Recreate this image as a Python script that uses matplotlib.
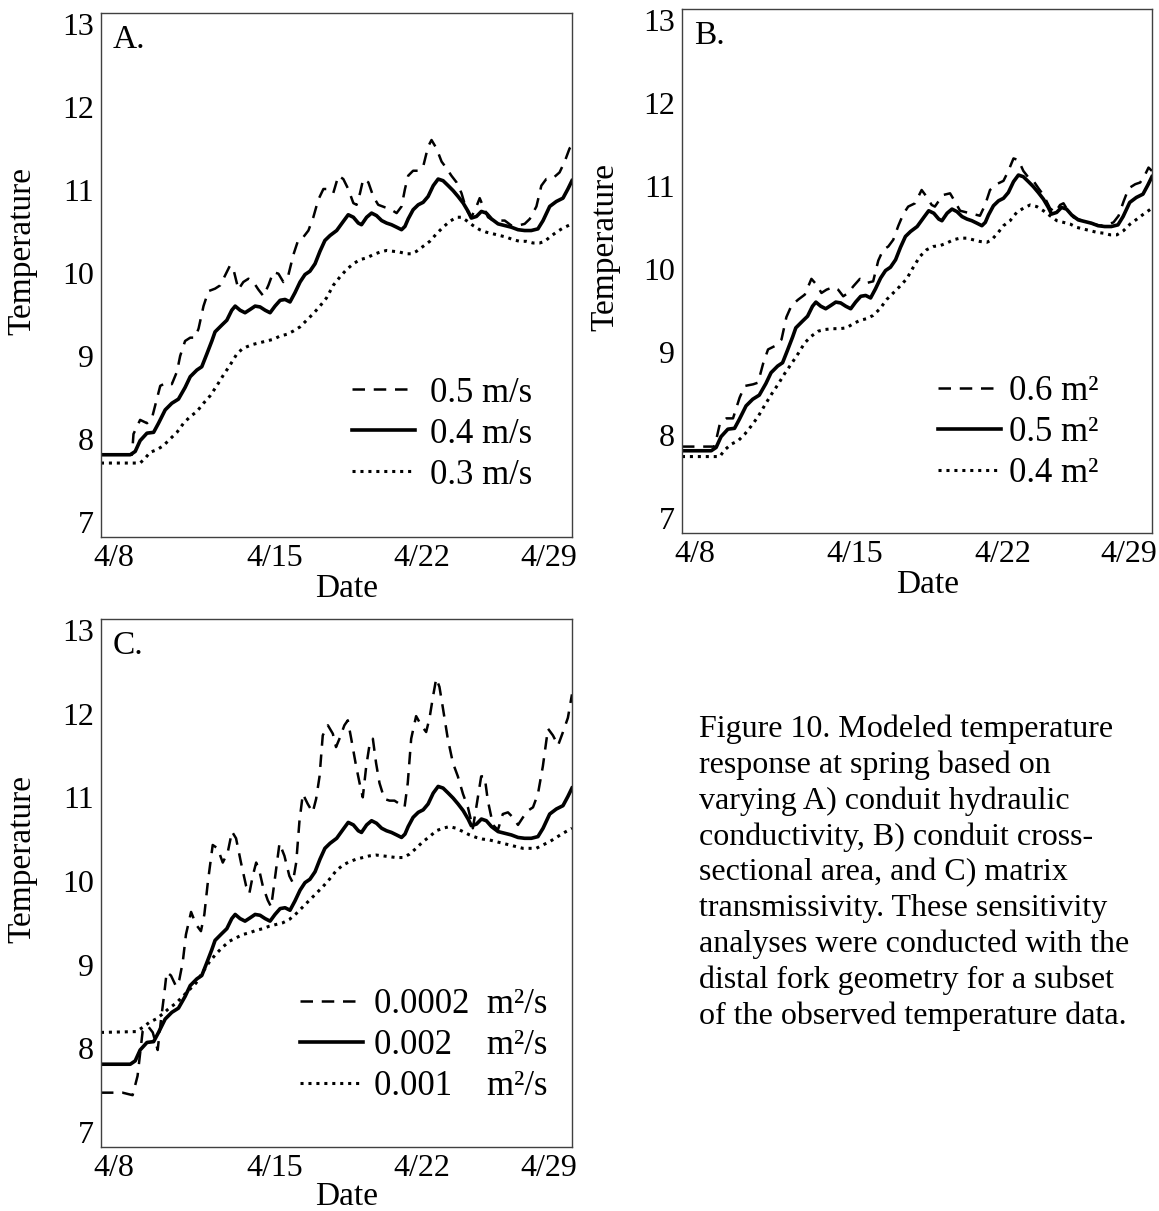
import matplotlib.pyplot as plt

plt.rcParams['font.family'] = ['Liberation Serif', 'DejaVu Serif']

# modelled spring temperature, x in days of April
base_day = [8.00, 9.37, 9.60, 9.83, 10.15, 10.46, 10.69, 11.00, 11.31, 11.62,
            11.93, 12.17, 12.48, 12.71, 12.94, 13.18, 13.33, 13.64, 13.88, 14.11,
            14.27, 14.50, 14.73, 14.97, 15.20, 15.43, 15.67, 15.90, 16.13, 16.37,
            16.60, 16.83, 17.06, 17.30, 17.53, 17.76, 18.00, 18.23, 18.46, 18.70,
            19.01, 19.32, 19.55, 19.79, 20.02, 20.17, 20.41, 20.64, 20.87, 21.11,
            21.34, 21.57, 21.81, 22.04, 22.20, 22.35, 22.58, 22.82, 23.05, 23.28,
            23.52, 23.75, 23.98, 24.22, 24.45, 24.68, 24.92, 25.15, 25.30, 25.54,
            25.77, 26.00, 26.24, 26.55, 26.86, 27.17, 27.48, 27.79, 28.10, 28.41,
            28.65, 28.96, 29.27, 29.58, 29.81, 30.00]
base_temp = [7.81, 7.81, 7.85, 7.98, 8.07, 8.08, 8.19, 8.35, 8.43, 8.48,
             8.62, 8.75, 8.83, 8.87, 9.02, 9.18, 9.29, 9.37, 9.43, 9.55,
             9.60, 9.55, 9.52, 9.56, 9.60, 9.59, 9.55, 9.52, 9.60, 9.67,
             9.68, 9.65, 9.76, 9.89, 9.98, 10.02, 10.11, 10.26, 10.39, 10.45,
             10.51, 10.62, 10.70, 10.67, 10.60, 10.58, 10.67, 10.72, 10.69, 10.63,
             10.60, 10.58, 10.55, 10.52, 10.56, 10.65, 10.76, 10.82, 10.85, 10.92,
             11.05, 11.13, 11.11, 11.05, 10.99, 10.92, 10.84, 10.74, 10.66, 10.68,
             10.74, 10.72, 10.65, 10.59, 10.57, 10.55, 10.52, 10.51, 10.51, 10.53,
             10.63, 10.80, 10.86, 10.90, 11.01, 11.11]

# A) conduit hydraulic conductivity
a_hi_day = [8.00, 9.45, 9.52, 9.83, 10.15, 10.38, 10.61, 10.77, 11.08, 11.31,
            11.55, 11.70, 11.93, 12.17, 12.40, 12.56, 12.79, 13.02, 13.33, 13.57,
            13.80, 14.03, 14.22, 14.42, 14.65, 14.89, 15.12, 15.35, 15.59, 15.82,
            16.05, 16.29, 16.52, 16.75, 16.99, 17.22, 17.45, 17.69, 17.92, 18.15,
            18.39, 18.62, 18.85, 19.09, 19.32, 19.55, 19.79, 19.94, 20.10, 20.25,
            20.49, 20.72, 20.95, 21.26, 21.50, 21.81, 22.04, 22.20, 22.35, 22.58,
            22.82, 23.05, 23.28, 23.44, 23.67, 23.91, 24.14, 24.37, 24.61, 24.84,
            25.07, 25.30, 25.54, 25.69, 25.85, 26.08, 26.32, 26.63, 26.86, 27.17,
            27.48, 27.79, 28.03, 28.34, 28.57, 28.80, 29.11, 29.42, 29.66, 29.89,
            30.00]
a_hi_temp = [7.81, 7.81, 8.06, 8.23, 8.19, 8.25, 8.48, 8.64, 8.68, 8.66,
             8.81, 9.00, 9.18, 9.22, 9.22, 9.33, 9.60, 9.78, 9.81, 9.85,
             9.97, 10.09, 10.01, 9.80, 9.89, 9.93, 9.89, 9.80, 9.72, 9.85,
             10.01, 9.99, 9.89, 9.97, 10.22, 10.40, 10.43, 10.51, 10.67, 10.88,
             11.01, 11.01, 10.96, 11.17, 11.13, 11.01, 10.84, 10.82, 10.96, 11.13,
             11.09, 10.92, 10.82, 10.79, 10.77, 10.72, 10.80, 11.01, 11.17, 11.23,
             11.23, 11.28, 11.52, 11.60, 11.50, 11.34, 11.26, 11.17, 11.09, 10.96,
             10.76, 10.67, 10.80, 10.90, 10.80, 10.67, 10.63, 10.63, 10.63, 10.57,
             10.57, 10.59, 10.65, 10.80, 11.05, 11.13, 11.14, 11.21, 11.34, 11.50,
             11.52]
a_lo_day = [8.00, 9.83, 10.07, 10.30, 10.61, 10.92, 11.23, 11.55, 11.86, 12.17,
            12.48, 12.79, 13.10, 13.41, 13.72, 14.03, 14.34, 14.58, 14.81, 15.12,
            15.43, 15.74, 16.05, 16.37, 16.68, 16.99, 17.30, 17.61, 17.92, 18.23,
            18.54, 18.85, 19.16, 19.47, 19.79, 20.10, 20.41, 20.72, 21.03, 21.34,
            21.65, 21.96, 22.27, 22.51, 22.74, 23.05, 23.36, 23.67, 23.98, 24.29,
            24.61, 24.84, 25.07, 25.38, 25.69, 26.00, 26.32, 26.63, 26.94, 27.25,
            27.56, 27.87, 28.18, 28.49, 28.73, 28.96, 29.27, 29.58, 30.00]
a_lo_temp = [7.71, 7.71, 7.77, 7.84, 7.87, 7.92, 8.00, 8.08, 8.19, 8.27,
             8.33, 8.43, 8.52, 8.64, 8.77, 8.89, 9.02, 9.08, 9.11, 9.14,
             9.16, 9.18, 9.20, 9.24, 9.26, 9.30, 9.35, 9.43, 9.51, 9.60,
             9.70, 9.85, 9.95, 10.04, 10.11, 10.16, 10.18, 10.22, 10.25, 10.27,
             10.26, 10.25, 10.23, 10.23, 10.26, 10.32, 10.38, 10.47, 10.55, 10.62,
             10.67, 10.67, 10.63, 10.57, 10.52, 10.49, 10.47, 10.45, 10.43, 10.40,
             10.38, 10.38, 10.36, 10.36, 10.38, 10.43, 10.49, 10.54, 10.59]

# B) conduit cross-sectional area
b_hi_day = [8.00, 9.53, 9.77, 10.08, 10.39, 10.70, 10.94, 11.33, 11.56, 11.80,
            12.03, 12.34, 12.66, 12.89, 13.13, 13.44, 13.75, 14.06, 14.30, 14.53,
            14.77, 15.08, 15.31, 15.55, 15.78, 16.02, 16.33, 16.64, 16.95, 17.19,
            17.42, 17.66, 17.89, 18.13, 18.36, 18.59, 18.91, 19.22, 19.45, 19.69,
            19.84, 20.00, 20.23, 20.55, 20.78, 21.02, 21.33, 21.64, 21.95, 22.19,
            22.42, 22.73, 23.05, 23.28, 23.52, 23.75, 23.98, 24.22, 24.45, 24.69,
            24.92, 25.23, 25.47, 25.70, 25.86, 26.09, 26.33, 26.64, 26.95, 27.27,
            27.58, 27.89, 28.20, 28.44, 28.67, 28.91, 29.22, 29.45, 29.69, 29.84,
            30.00]
b_hi_temp = [7.86, 7.86, 8.13, 8.20, 8.20, 8.45, 8.59, 8.61, 8.63, 8.86,
             9.03, 9.07, 9.15, 9.42, 9.56, 9.63, 9.69, 9.88, 9.81, 9.71,
             9.75, 9.78, 9.75, 9.67, 9.71, 9.79, 9.88, 9.83, 9.85, 10.10,
             10.23, 10.27, 10.35, 10.52, 10.66, 10.75, 10.79, 10.95, 10.87, 10.77,
             10.75, 10.81, 10.89, 10.91, 10.81, 10.70, 10.68, 10.66, 10.64, 10.77,
             10.95, 11.02, 11.06, 11.18, 11.33, 11.31, 11.18, 11.10, 11.06, 10.97,
             10.89, 10.73, 10.68, 10.77, 10.79, 10.69, 10.62, 10.59, 10.57, 10.54,
             10.52, 10.53, 10.56, 10.64, 10.81, 10.97, 11.02, 11.04, 11.14, 11.22,
             11.18]
b_lo_day = [8.00, 9.77, 10.00, 10.31, 10.63, 10.94, 11.25, 11.56, 11.88, 12.19,
            12.50, 12.81, 13.13, 13.44, 13.75, 14.06, 14.38, 14.69, 15.08, 15.39,
            15.70, 16.02, 16.33, 16.64, 16.95, 17.27, 17.58, 17.89, 18.20, 18.52,
            18.83, 19.14, 19.45, 19.77, 20.08, 20.39, 20.70, 21.02, 21.33, 21.64,
            21.95, 22.27, 22.50, 22.81, 23.05, 23.36, 23.67, 23.98, 24.30, 24.61,
            24.92, 25.23, 25.55, 25.86, 26.17, 26.48, 26.80, 27.11, 27.42, 27.73,
            28.05, 28.36, 28.67, 28.98, 29.30, 29.61, 30.00]
b_lo_temp = [7.74, 7.74, 7.82, 7.89, 7.93, 8.01, 8.11, 8.22, 8.36, 8.49,
             8.61, 8.74, 8.86, 8.98, 9.11, 9.19, 9.25, 9.27, 9.28, 9.28,
             9.29, 9.34, 9.38, 9.40, 9.44, 9.52, 9.63, 9.71, 9.79, 9.88,
             10.02, 10.15, 10.23, 10.27, 10.28, 10.31, 10.35, 10.37, 10.37, 10.35,
             10.33, 10.32, 10.35, 10.44, 10.52, 10.58, 10.68, 10.73, 10.77, 10.75,
             10.70, 10.64, 10.58, 10.56, 10.54, 10.50, 10.48, 10.46, 10.44, 10.43,
             10.41, 10.41, 10.46, 10.54, 10.60, 10.66, 10.73]

# C) matrix transmissivity
c_hi_day = [8.00, 9.01, 9.48, 9.71, 9.95, 10.18, 10.42, 10.65, 10.80, 10.96,
            11.07, 11.27, 11.51, 11.66, 11.82, 11.97, 12.21, 12.44, 12.67, 12.83,
            12.99, 13.22, 13.45, 13.69, 13.92, 14.12, 14.31, 14.54, 14.78, 14.93,
            15.09, 15.25, 15.40, 15.56, 15.79, 15.95, 16.10, 16.34, 16.57, 16.80,
            16.96, 17.12, 17.27, 17.43, 17.66, 17.89, 18.05, 18.21, 18.36, 18.60,
            18.83, 18.98, 19.14, 19.37, 19.53, 19.69, 19.92, 20.08, 20.23, 20.39,
            20.54, 20.70, 20.85, 21.01, 21.24, 21.48, 21.71, 21.95, 22.18, 22.33,
            22.49, 22.72, 22.96, 23.19, 23.35, 23.50, 23.66, 23.81, 23.97, 24.20,
            24.44, 24.67, 24.91, 25.14, 25.37, 25.53, 25.76, 25.92, 26.07, 26.31,
            26.54, 26.77, 27.01, 27.24, 27.48, 27.71, 27.94, 28.18, 28.41, 28.64,
            28.88, 29.11, 29.35, 29.58, 29.81, 30.00]
c_hi_temp = [7.47, 7.47, 7.44, 7.67, 8.21, 8.27, 8.19, 7.98, 8.33, 8.66,
             8.91, 8.87, 8.74, 8.82, 9.03, 9.36, 9.63, 9.48, 9.40, 9.60,
             9.98, 10.43, 10.39, 10.22, 10.34, 10.59, 10.51, 10.22, 9.94, 9.85,
             10.06, 10.22, 10.12, 9.94, 9.77, 9.69, 9.98, 10.45, 10.30, 10.06,
             9.98, 10.22, 10.71, 11.04, 10.92, 10.82, 10.98, 11.25, 11.74, 11.86,
             11.76, 11.60, 11.70, 11.86, 11.92, 11.70, 11.37, 11.17, 11.00, 11.37,
             11.62, 11.70, 11.41, 11.17, 10.98, 10.96, 10.96, 10.92, 10.88, 11.17,
             11.70, 11.97, 11.86, 11.78, 11.95, 12.19, 12.42, 12.32, 12.07, 11.70,
             11.41, 11.25, 11.04, 10.88, 10.63, 10.88, 11.25, 11.25, 10.96, 10.67,
             10.61, 10.80, 10.82, 10.76, 10.67, 10.76, 10.84, 10.88, 11.04, 11.37,
             11.82, 11.74, 11.62, 11.78, 11.95, 12.23]
c_lo_day = [8.00, 9.64, 9.95, 10.26, 10.57, 10.88, 11.19, 11.51, 11.82, 12.13,
            12.44, 12.75, 13.06, 13.38, 13.69, 14.00, 14.31, 14.62, 14.93, 15.25,
            15.56, 15.87, 16.18, 16.49, 16.80, 17.12, 17.43, 17.74, 18.05, 18.36,
            18.67, 18.98, 19.30, 19.61, 19.92, 20.23, 20.54, 20.85, 21.17, 21.48,
            21.79, 22.10, 22.41, 22.72, 23.04, 23.35, 23.66, 23.97, 24.28, 24.59,
            24.91, 25.22, 25.53, 25.84, 26.15, 26.46, 26.77, 27.09, 27.40, 27.71,
            28.02, 28.33, 28.64, 28.96, 29.27, 29.58, 30.00]
c_lo_temp = [8.19, 8.20, 8.25, 8.31, 8.35, 8.41, 8.48, 8.54, 8.62, 8.70,
             8.78, 8.91, 9.03, 9.13, 9.21, 9.28, 9.32, 9.36, 9.38, 9.41,
             9.43, 9.46, 9.48, 9.50, 9.54, 9.61, 9.69, 9.77, 9.85, 9.93,
             10.02, 10.12, 10.19, 10.23, 10.26, 10.28, 10.30, 10.31, 10.30, 10.29,
             10.28, 10.28, 10.32, 10.39, 10.47, 10.53, 10.60, 10.63, 10.65, 10.63,
             10.59, 10.55, 10.52, 10.50, 10.49, 10.47, 10.45, 10.43, 10.41, 10.39,
             10.39, 10.39, 10.43, 10.47, 10.52, 10.57, 10.63]

a_labels = ['0.5 m/s', '0.4 m/s', '0.3 m/s']
b_labels = ['0.6 m\u00b2', '0.5 m\u00b2', '0.4 m\u00b2']
c_labels = ['0.0002  m\u00b2/s', '0.002\u2007  m\u00b2/s', '0.001\u2007  m\u00b2/s']

date_pos = [8.6, 16.1, 23.0, 28.9]
date_labels = ['4/8', '4/15', '4/22', '4/29']
temp_ticks = [7, 8, 9, 10, 11, 12, 13]

caption = ("Figure 10. Modeled temperature\n"
           "response at spring based on\n"
           "varying A) conduit hydraulic\n"
           "conductivity, B) conduit cross-\n"
           "sectional area, and C) matrix\n"
           "transmissivity. These sensitivity\n"
           "analyses were conducted with the\n"
           "distal fork geometry for a subset\n"
           "of the observed temperature data.")

fig = plt.figure(figsize=(11.59, 12.11), dpi=100)
ax_a = fig.add_axes([0.0871, 0.5566, 0.4064, 0.4327])
ax_b = fig.add_axes([0.5884, 0.5599, 0.4055, 0.4327])
ax_c = fig.add_axes([0.0871, 0.0528, 0.4064, 0.4360])

dashed = (0, (5, 3.5))
dotted = (0, (1, 1.6))


def draw_panel(ax, letter, hi, lo, labels, anchor, textpad, ylab_x, xlab_y):
    ax.plot(hi[0], hi[1], color='black', lw=1.8, linestyle=dashed, label=labels[0])
    ax.plot(base_day, base_temp, color='black', lw=2.6, label=labels[1])
    ax.plot(lo[0], lo[1], color='black', lw=2.2, linestyle=dotted, label=labels[2])
    ax.set_xlim(8, 30)
    ax.set_ylim(6.82, 13.13)
    ax.set_xticks(date_pos)
    ax.set_xticklabels(date_labels)
    ax.set_yticks(temp_ticks)
    ax.tick_params(length=0, labelsize=23, pad=5)
    for sp in ax.spines.values():
        sp.set_color('#404040')
        sp.set_linewidth(1.0)
    ax.set_xlabel('Date', fontsize=24)
    ax.set_ylabel('Temperature', fontsize=24)
    ax.xaxis.set_label_coords(0.522, xlab_y)
    ax.yaxis.set_label_coords(ylab_x, 0.546)
    ax.text(0.025, 0.933, letter, transform=ax.transAxes, fontsize=24,
            va='baseline', ha='left')
    ax.legend(loc='upper left', bbox_to_anchor=anchor, frameon=False,
              fontsize=25, handlelength=1.8, handletextpad=textpad,
              labelspacing=0.23, borderpad=0, borderaxespad=0)


draw_panel(ax_a, 'A.', (a_hi_day, a_hi_temp), (a_lo_day, a_lo_temp), a_labels,
           (0.533, 0.306), 0.45, -0.136, -0.069)
draw_panel(ax_b, 'B.', (b_hi_day, b_hi_temp), (b_lo_day, b_lo_temp), b_labels,
           (0.545, 0.302), 0.25, -0.132, -0.069)
draw_panel(ax_c, 'C.', (c_hi_day, c_hi_temp), (c_lo_day, c_lo_temp), c_labels,
           (0.423, 0.301), 0.32, -0.136, -0.065)

fig.text(699 / 1159, 1 - 714 / 1211, caption, fontsize=23, va='top', ha='left',
         linespacing=1.29)

fig.savefig('out.png', dpi=100)
